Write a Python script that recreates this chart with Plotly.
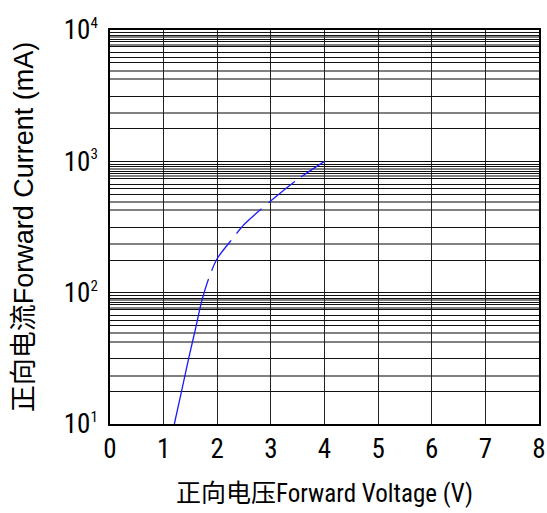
import plotly.graph_objects as go

# Forward voltage (V) vs forward current (mA)
voltage_v = [1.2, 1.35, 1.47, 1.59, 1.70, 1.84, 2.0, 2.3, 2.5, 3.0, 3.5, 4.0]
current_ma = [10, 19, 32, 52, 83, 128, 182, 262, 330, 500, 730, 1000]

x_ticks = [0, 1, 2, 3, 4, 5, 6, 7, 8]
decades = [1, 2, 3, 4]
decade_labels = ["10<sup><span style='font-size:15px'>%d</span></sup>" % d for d in decades]

# gridline multipliers within each decade (as printed on the original chart paper)
grid_dark_mult = [1.77, 3.13, 5.62, 6.17, 6.70, 7.45, 8.13, 8.41, 9.08, 9.53]
grid_grey_mult = [2.34, 4.24, 4.91, 7.71, 8.77]

FONT = "Roboto Condensed, Roboto, Noto Sans CJK SC, sans-serif"
FONT_Y = "Liberation Sans, Arial, Noto Sans CJK SC, sans-serif"

major_vals, major_text = [], []
for d, lab in zip(decades, decade_labels):
    major_vals.append(10 ** d)
    major_text.append(lab)
    if d < decades[-1]:
        for m in grid_dark_mult:
            major_vals.append(m * 10 ** d)
            major_text.append("")
grey_vals = [m * 10 ** d for d in decades[:-1] for m in grid_grey_mult]

fig = go.Figure()
fig.add_trace(go.Scatter(
    x=voltage_v, y=current_ma, mode="lines",
    line=dict(color="#1a1aff", width=1.3, shape="spline", smoothing=0.8,
              dash="149px,9px,36px,9px,35px,9px,34px,8px,60px"),
    showlegend=False, hoverinfo="x+y",
))

fig.update_layout(
    width=547, height=513,
    margin=dict(l=110, r=8, t=30, b=89),
    paper_bgcolor="white", plot_bgcolor="white",
    font=dict(family=FONT, color="black", size=27),
)
fig.update_xaxes(
    range=[0, 8], tickmode="array", tickvals=x_ticks, automargin=False,
    showgrid=True, gridcolor="#222222", gridwidth=1.2,
    showline=True, linecolor="black", linewidth=1.5, mirror=True,
    ticks="", zeroline=False,
    tickfont=dict(family=FONT, size=27),
    title=dict(text="正向电压Forward Voltage (V)", font=dict(family=FONT, size=25), standoff=20),
)
fig.update_yaxes(
    type="log", range=[1, 4], tickmode="array", automargin=False,
    tickvals=major_vals, ticktext=major_text,
    showgrid=True, gridcolor="#111111", gridwidth=1,
    minor=dict(tickmode="array", tickvals=grey_vals, showgrid=True,
               gridcolor="#808080", gridwidth=1.5, ticks=""),
    showline=True, linecolor="black", linewidth=1.5, mirror=True,
    ticks="", zeroline=False, ticklabelstandoff=5,
    tickfont=dict(family=FONT, size=27),
    title=dict(text="正向电流Forward Current (mA)", font=dict(family=FONT_Y, size=27), standoff=22),
)

fig.write_html("out.html", config={"displayModeBar": False},
               post_script="document.body.style.margin='0';")
